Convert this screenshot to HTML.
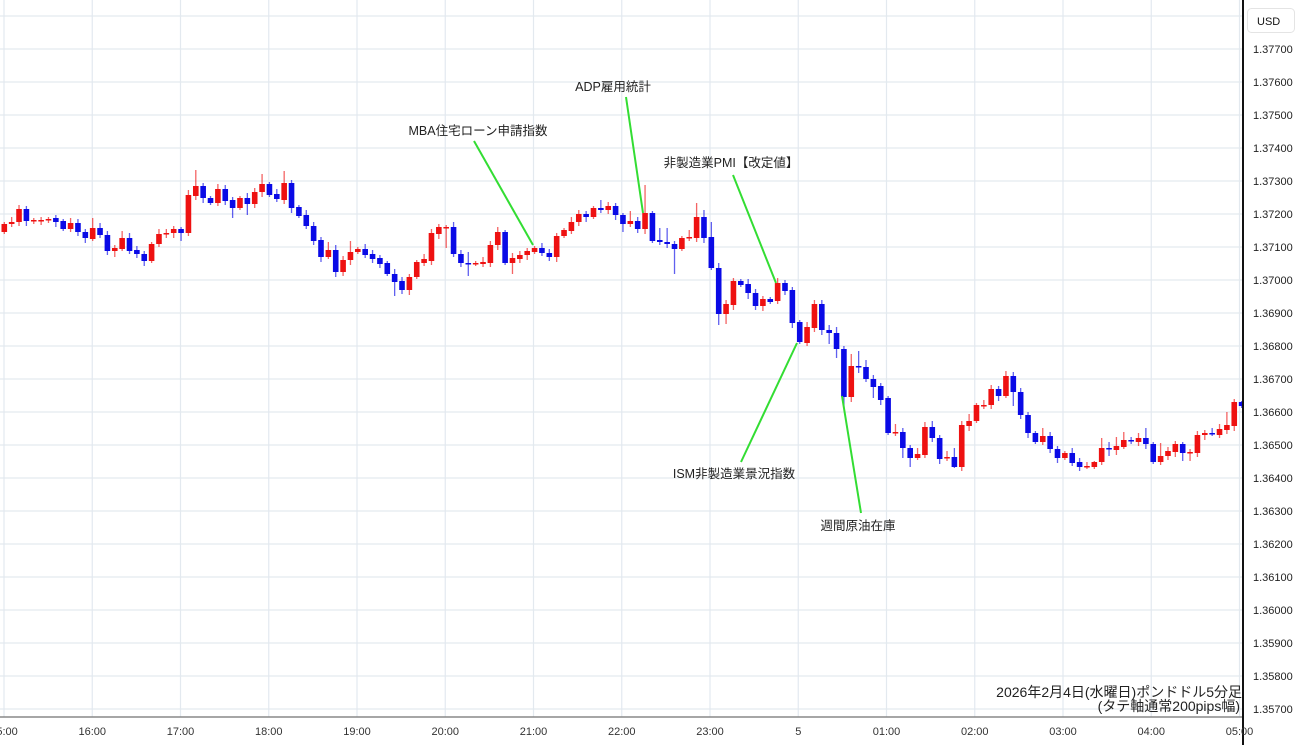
<!DOCTYPE html>
<html><head><meta charset="utf-8"><style>
html,body{margin:0;padding:0;background:#fff;}
svg{display:block;font-family:"Liberation Sans","Noto Sans CJK JP",sans-serif;}
</style></head><body>
<svg id="c" width="1300" height="745" xmlns="http://www.w3.org/2000/svg">
<rect width="1300" height="745" fill="#fff"/>
<g id="grid"></g>
<g id="cand"></g>
<g stroke="#33dd33" stroke-width="2">
<line x1="474" y1="141" x2="533" y2="245"/>
<line x1="626" y1="97" x2="643" y2="213"/>
<line x1="733" y1="175" x2="776" y2="283"/>
<line x1="741" y1="462" x2="797" y2="343"/>
<line x1="861" y1="513" x2="842" y2="396"/>
</g>
<g font-size="12.5" fill="#222" text-anchor="middle">
<text x="478" y="135">MBA住宅ローン申請指数</text>
<text x="613" y="91">ADP雇用統計</text>
<text x="731" y="167">非製造業PMI【改定値】</text>
<text x="734" y="478">ISM非製造業景況指数</text>
<text x="858" y="530">週間原油在庫</text>
</g>
<g font-size="14" fill="#222" text-anchor="end">
<text x="1242" y="697">2026年2月4日(水曜日)ポンドドル5分足</text>
<text x="1240" y="711">(タテ軸通常200pips幅)</text>
</g>
<rect x="1244" y="0" width="56" height="745" fill="#fff"/>
<line x1="0" y1="717" x2="1244" y2="717" stroke="#888" stroke-width="1.5"/>
<line x1="1243" y1="0" x2="1243" y2="745" stroke="#111" stroke-width="2"/>
<rect x="1247.5" y="8.5" width="47" height="24" rx="4" fill="#fff" stroke="#e4e4e4"/>
<text x="1257" y="25" font-size="11" fill="#111">USD</text>
<g id="py" font-size="11" fill="#222"></g>
<g id="tx" font-size="11" fill="#333" text-anchor="middle"></g>
</svg>
<script>
(function(){
var NS="http://www.w3.org/2000/svg";
function el(p,t,a,txt){var e=document.createElementNS(NS,t);for(var k in a)e.setAttribute(k,a[k]);if(txt!==undefined)e.textContent=txt;p.appendChild(e);return e;}
var g=document.getElementById('grid'),py=document.getElementById('py'),tx=document.getElementById('tx');
for(var k=0;k<22;k++){var yy=16+33*k;if(yy>716)break;el(g,'line',{x1:0,x2:1243,y1:yy,y2:yy,stroke:'#e3e9ef','stroke-width':1.2});
 var pp=(1.378-0.001*k).toFixed(5);if(k>0)el(py,'text',{x:1253,y:yy+4},pp);}
var labs=['15:00','16:00','17:00','18:00','19:00','20:00','21:00','22:00','23:00','5','01:00','02:00','03:00','04:00','05:00'];
for(var h=0;h<15;h++){var xx=4+88.25*h;el(g,'line',{x1:xx,x2:xx,y1:0,y2:717,stroke:'#e3e9ef','stroke-width':1.2});el(tx,'text',{x:xx,y:735},labs[h]);}
var D=[[232,224],[224,222],[222,209],[209,221],[220,220,218,224],[220,220,217,225],[219,219,217,223],[218,222],[221,229],[229,223],[223,232],[232,238],[239,228,218],[228,235],[235,251],[251,248,0,257],[249,238,231],[238,251],[250,254],[254,261],[261,244],[244,234],[234,233],[233,229],[229,233,0,241],[233,195],[196,186,170],[186,198],[198,203],[203,189],[189,201],[200,208,0,218],[208,198],[198,204,0,215],[204,192],[192,184,174],[184,195],[194,199],[200,183,171],[183,208],[207,216],[215,226],[226,241],[240,257],[257,250,242],[250,272,0,277],[272,260],[260,252,241],[252,249],[249,255],[254,259],[258,264,0,268],[263,274],[274,282,0,296],[281,290],[290,277],[277,262],[263,259],[261,233],[234,227],[228,227,0,248],[227,254],[254,263],[263,264,252,276],[264,263],[264,262],[263,245],[245,232,227],[232,263],[263,258,0,274],[259,255],[255,251],[252,248],[248,253],[253,257],[257,236],[236,230],[231,222],[222,214],[214,217],[217,208],[208,210,200],[210,206],[206,215],[215,224,0,232],[224,221,211],[221,229],[229,213,185],[213,241],[240,242,228],[242,244,228],[244,249,0,274],[249,238],[238,237,230],[238,217,203],[217,238,210],[237,268,222],[268,314,0,325],[314,304,0,324],[305,281],[281,285],[284,293,0,299],[293,306],[306,299],[299,302],[301,283],[283,291,280],[290,323],[322,342],[343,327],[328,304],[304,330,300],[330,333,325,344],[333,349,327,358],[349,397,346,408],[397,366,354],[366,367,351,373],[367,379,360],[379,387,0,398],[386,400],[398,433],[433,432,424],[432,448,428,458],[448,458,0,467],[458,454,448],[455,427],[427,438,421],[438,459],[458,457,451,461],[457,467,448,468],[467,425],[426,421,414],[421,405],[405,405,400,409],[405,389],[389,396],[396,376,371],[376,392,372,406],[392,415],[415,433],[433,442],[442,436,428],[436,449],[449,458,0,463],[458,453],[453,463],[462,467],[467,466,462,469],[467,462,461,469],[462,448,438],[448,449,442,456],[450,446,437],[447,440,432],[440,441,437,444],[442,438,433],[438,444,428],[444,462],[462,456,443],[456,451],[452,444],[444,453,0,461],[453,452,449,461],[453,435],[435,433,430],[433,434,428,436],[435,429],[430,425,412],[426,402],[402,406,401,408]];
var cg=document.getElementById('cand');
for(var i=0;i<D.length;i++){var d=D[i],o=d[0],c=d[1],cx=4.3+7.365*i;
 var col=(c>o)?'#0a0ae6':'#ee1111';
 var bt=Math.min(o,c),bb=Math.max(o,c);
 var hi=d[2]||bt-(2+(i*7)%4),lo=d[3]||bb+(2+(i*5)%4);
 el(cg,'line',{x1:cx,x2:cx,y1:hi,y2:lo,stroke:col,'stroke-width':1.3,'stroke-opacity':0.65});
 el(cg,'rect',{x:cx-2.8,y:bt,width:5.6,height:Math.max(bb-bt,1.5),fill:col});}
})();
</script>
</body></html>
